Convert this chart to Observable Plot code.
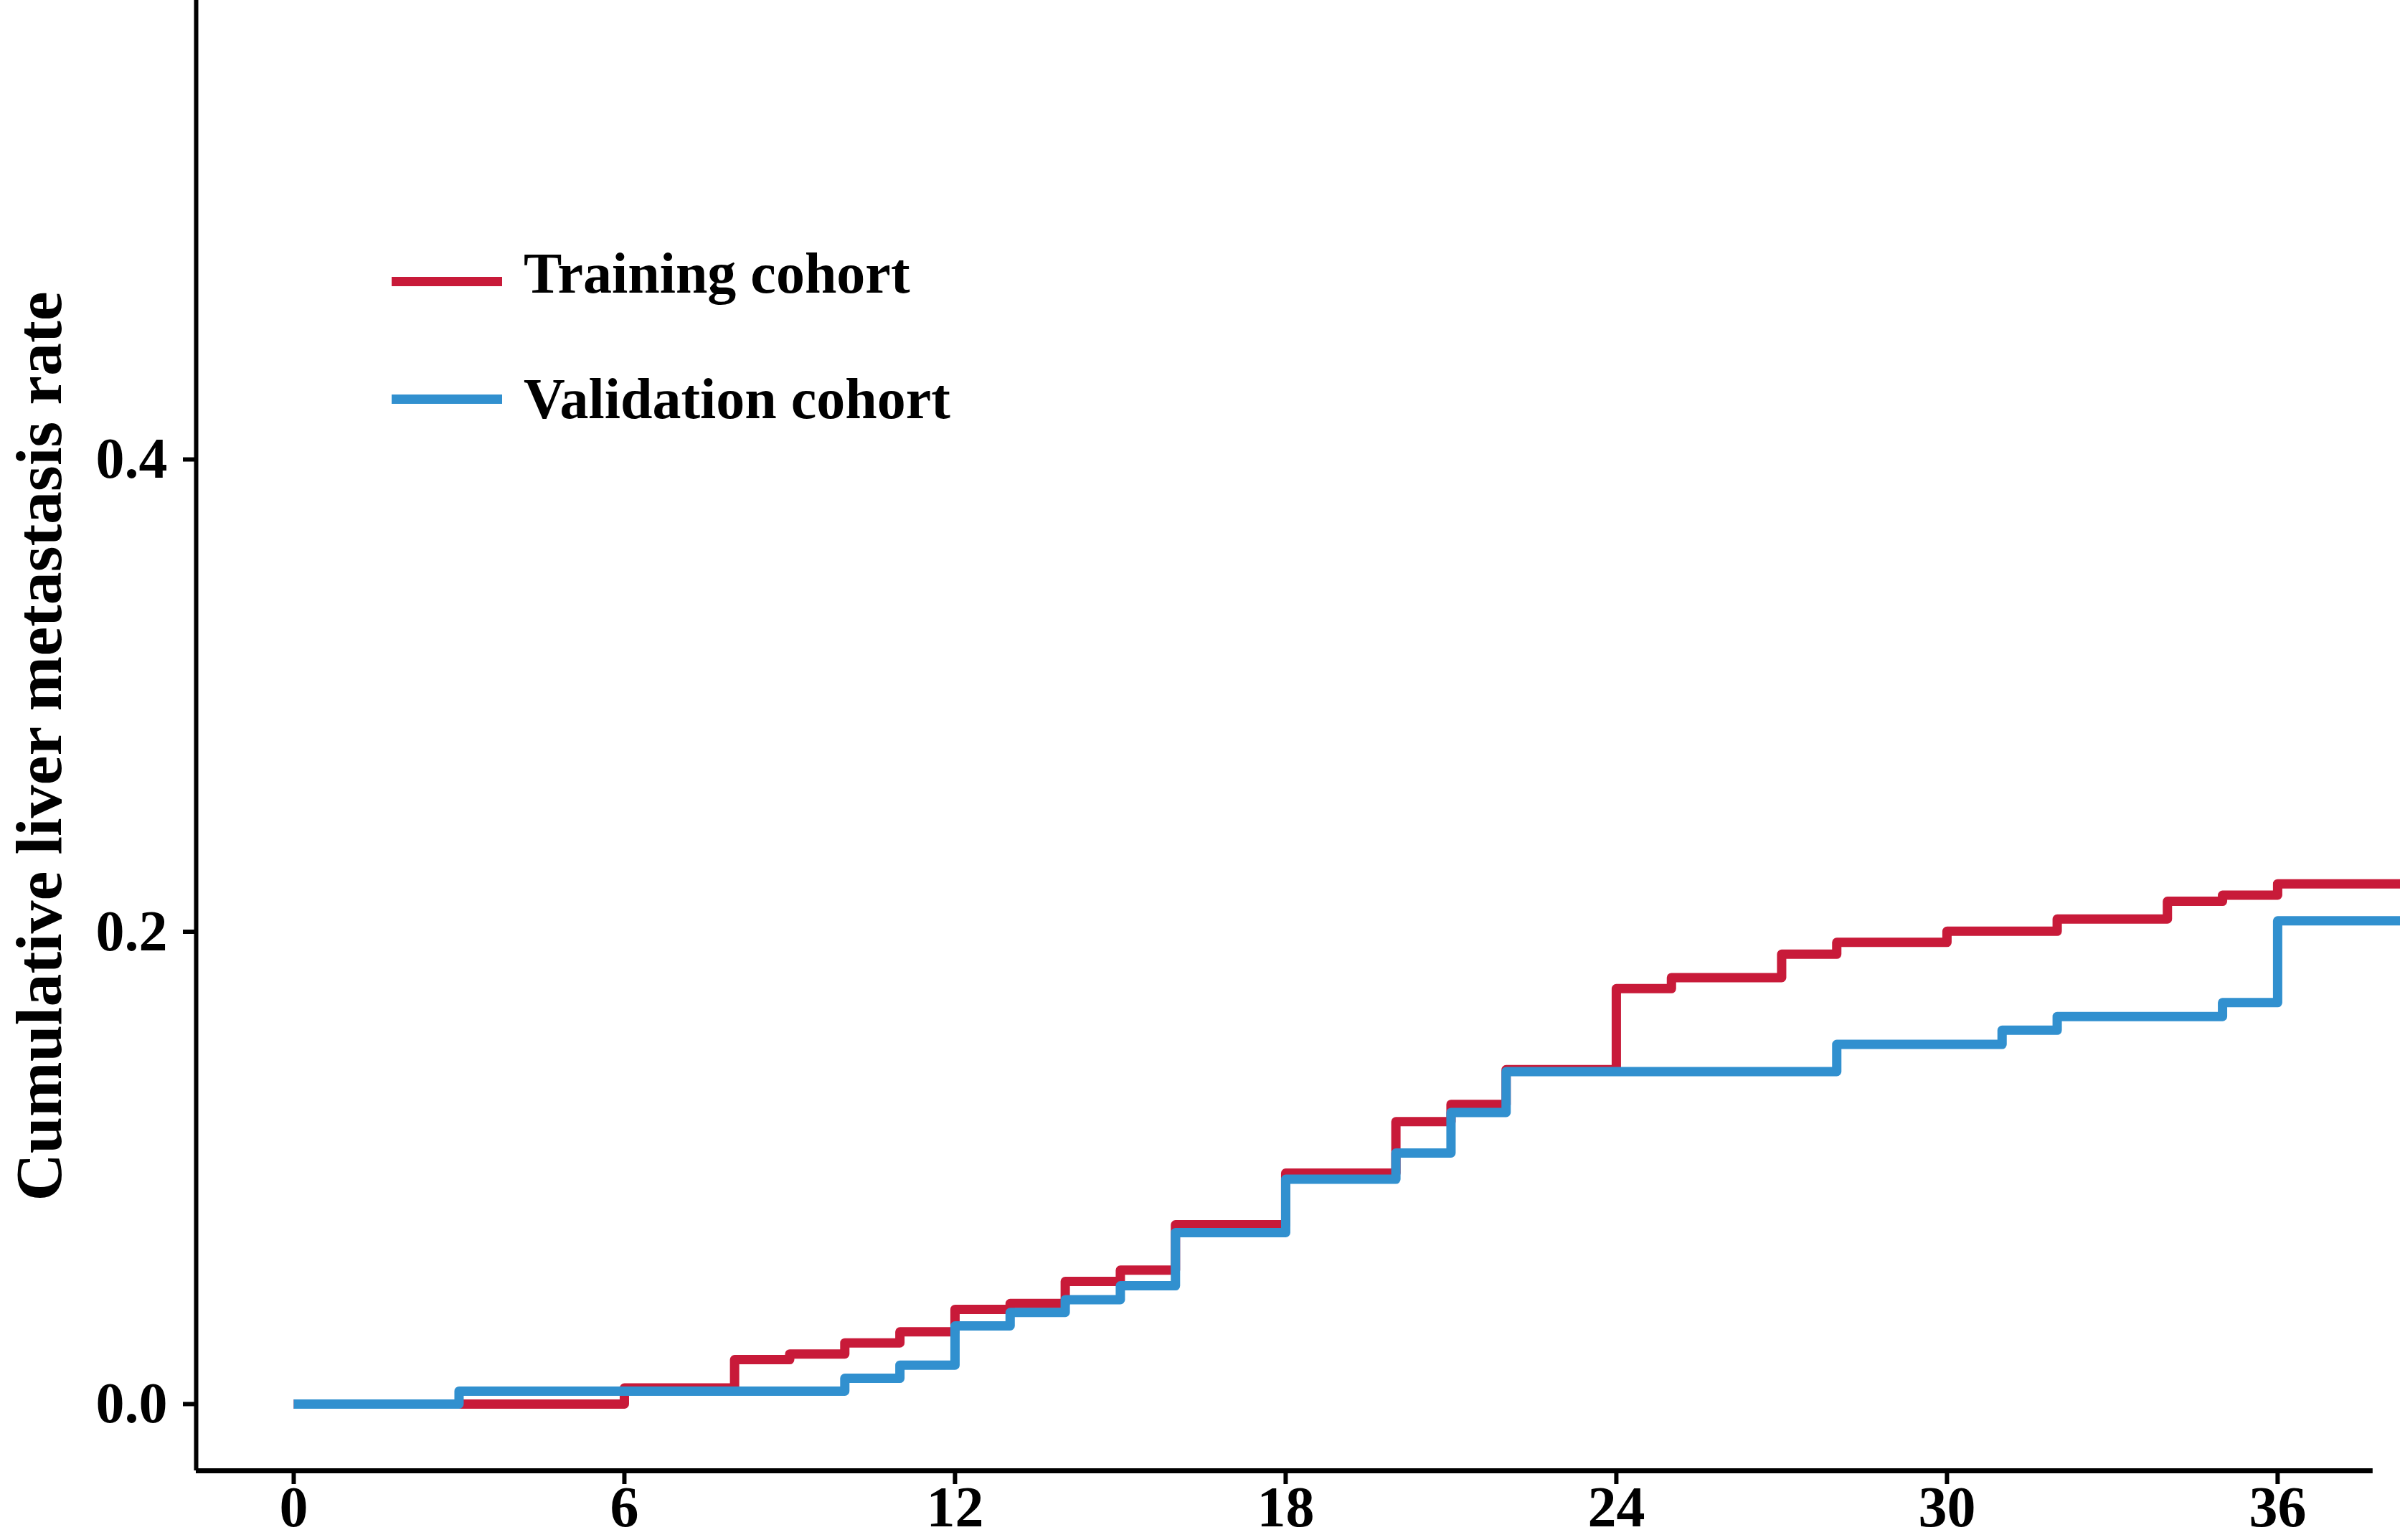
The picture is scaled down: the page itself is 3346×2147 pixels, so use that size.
<!DOCTYPE html>
<html>
<head>
<meta charset="utf-8">
<script src="https://cdn.jsdelivr.net/npm/d3@7"></script>
<script src="https://cdn.jsdelivr.net/npm/@observablehq/plot@0.6"></script>
<style>
  html, body { margin: 0; padding: 0; background: #fff; overflow: hidden; }
  #wrap { position: relative; width: 3346px; height: 2147px; }
  .leg { position: absolute; font-family: "Liberation Serif", "Times New Roman", serif; font-weight: bold; font-size: 80px; line-height: 80px; color: #000; white-space: nowrap; }
  .sw { position: absolute; width: 154px; height: 13px; }
</style>
</head>
<body>
<div id="wrap"></div>
<script>
// Training cohort: step times (months) and cumulative rates
const trainTimes = [0, 6, 8, 9, 10, 11, 12, 13, 14, 15, 16, 18, 20, 21, 22, 24, 25, 27, 28, 30, 32, 34, 35, 36, 38.3];
const trainRates = [0, 0.0068, 0.0188, 0.0212, 0.0259, 0.0306, 0.0401, 0.0426, 0.0519, 0.0567, 0.0759, 0.0978, 0.1196, 0.1269, 0.1416, 0.1759, 0.1806, 0.1905, 0.1955, 0.2002, 0.2054, 0.2129, 0.2155, 0.2203, 0.2203];
// Validation cohort
const validTimes = [0, 3, 10, 11, 12, 13, 14, 15, 16, 18, 20, 21, 22, 28, 31, 32, 35, 36, 38.3];
const validRates = [0, 0.0055, 0.0109, 0.0165, 0.0331, 0.0388, 0.0442, 0.0501, 0.0726, 0.0952, 0.1063, 0.1235, 0.1408, 0.1523, 0.1583, 0.1641, 0.1700, 0.2046, 0.2046];

const seriesNames = ["Training cohort", "Validation cohort"];
const seriesColors = ["#C81A39", "#3190CF"];
const xTicks = [0, 6, 12, 18, 24, 30, 36];
const yTicks = [0, 0.2, 0.4];
const yTitle = "Cumulative liver metastasis rate";

const xDomain = [-1.77, 38.227];
const yDomain = [-0.02825, 0.5944];
const xAxisEnd = 37.73;

const train = trainTimes.map((t, i) => ({time: t, rate: trainRates[i], cohort: seriesNames[0]}));
const valid = validTimes.map((t, i) => ({time: t, rate: validRates[i], cohort: seriesNames[1]}));

const font = "'Liberation Serif', 'Times New Roman', serif";

const chart = Plot.plot({
  width: 3346,
  height: 2147,
  marginLeft: 273,
  marginRight: 0,
  marginTop: 0,
  marginBottom: 97,
  x: {domain: xDomain},
  y: {domain: yDomain},
  style: {fontFamily: font, fontWeight: "bold", fontSize: "80px", background: "white", overflow: "visible", color: "black"},
  marks: [
    Plot.ruleX([xDomain[0]], {y1: yDomain[0], y2: yDomain[1], stroke: "black", strokeWidth: 6}),
    Plot.ruleY([yDomain[0]], {x1: xDomain[0], x2: xAxisEnd, stroke: "black", strokeWidth: 7}),
    Plot.axisY({ticks: yTicks, tickFormat: d3.format(".1f"), tickSize: 18, tickPadding: 22, strokeWidth: 6, label: null, fontSize: 80, fontWeight: "bold"}),
    Plot.axisX({ticks: xTicks, tickFormat: d3.format("d"), tickSize: 19, tickPadding: 2, strokeWidth: 6, label: null, fontSize: 80, fontWeight: "bold"}),
    Plot.line(train, {x: "time", y: "rate", curve: "step-after", stroke: seriesColors[0], strokeWidth: 13, strokeLinejoin: "round", strokeLinecap: "butt"}),
    Plot.line(valid, {x: "time", y: "rate", curve: "step-after", stroke: seriesColors[1], strokeWidth: 13, strokeLinejoin: "round", strokeLinecap: "butt"}),
    Plot.text([yTitle], {frameAnchor: "left", rotate: -90, dx: -218, dy: 15, textAnchor: "middle", lineAnchor: "middle", fontSize: 92, fontWeight: "bold", fill: "black"})
  ]
});

const wrap = document.getElementById("wrap");
wrap.appendChild(chart);

// legend overlay
const legTops = [386, 550];
const textTops = [341, 516];
seriesNames.forEach((name, i) => {
  const sw = document.createElement("div");
  sw.className = "sw";
  sw.style.left = "546px";
  sw.style.top = legTops[i] + "px";
  sw.style.background = seriesColors[i];
  wrap.appendChild(sw);
  const tx = document.createElement("div");
  tx.className = "leg";
  tx.style.left = "730px";
  tx.style.top = textTops[i] + "px";
  tx.textContent = name;
  wrap.appendChild(tx);
});
</script>
</body>
</html>
